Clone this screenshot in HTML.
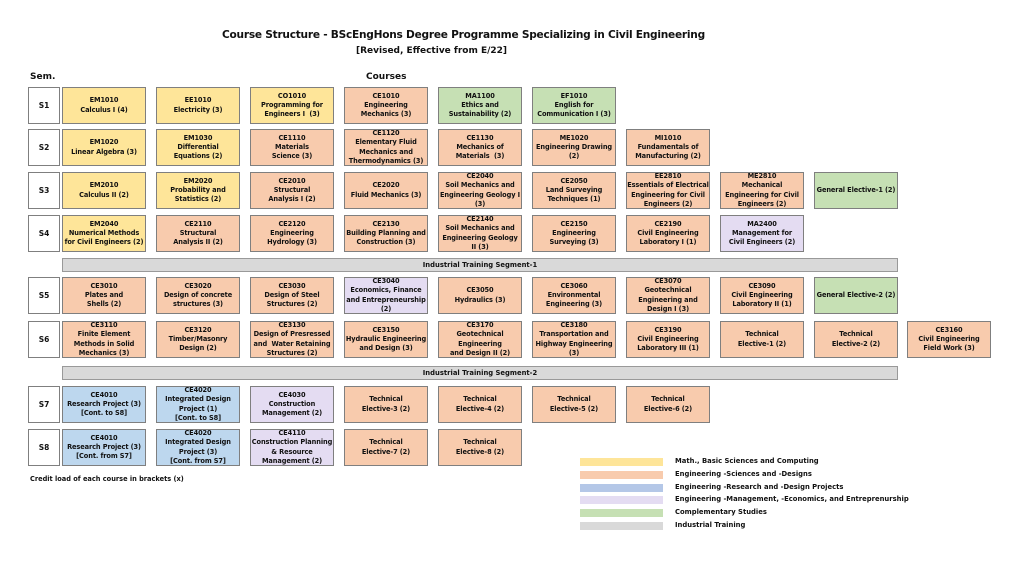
<!DOCTYPE html>
<html><head><meta charset="utf-8"><style>
body{margin:0;width:1024px;height:576px;background:#fff;position:relative;overflow:hidden;font-family:"DejaVu Sans","Liberation Sans",sans-serif;font-weight:bold;color:#111}
.b{position:absolute;width:82px;height:35px;border:1px solid #7f7f7f;display:flex;align-items:center;justify-content:center;text-align:center;font-size:6.6px;line-height:9.2px;overflow:hidden;letter-spacing:-0.1px}
.y{background:#fee599}.o{background:#f8cbad}.bl{background:#bdd7ee}.p{background:#e4dcf2}.g{background:#c6e0b4}
.s{position:absolute;left:28px;width:30px;height:35px;border:1px solid #7f7f7f;background:#fff;display:flex;align-items:center;justify-content:center;font-size:7.5px}
.t{position:absolute;white-space:nowrap}
.bar{position:absolute;left:62px;width:834px;height:12px;background:#d9d9d9;border:1px solid #999;font-size:6.8px;line-height:12px;text-align:center;padding-left:0}
.sw{position:absolute;left:580px;width:83px;height:8px}
.lt{position:absolute;left:675px;font-size:6.8px;white-space:nowrap}
</style></head><body>
<div class="t" style="left:222px;top:29px;width:480px;text-align:center;font-size:10.6px;letter-spacing:-0.25px">Course Structure - BScEngHons Degree Programme Specializing in Civil Engineering</div>
<div class="t" style="left:356px;top:46px;font-size:9px">[Revised, Effective from E/22]</div>
<div class="t" style="left:30px;top:72px;font-size:9px">Sem.</div>
<div class="t" style="left:366px;top:72px;font-size:9px">Courses</div>

<div class="s" style="top:87px">S1</div>
<div class="b y" style="left:62px;top:87px">EM1010<br>Calculus I (4)</div>
<div class="b y" style="left:156px;top:87px">EE1010<br>Electricity (3)</div>
<div class="b y" style="left:250px;top:87px">CO1010<br>Programming for<br>Engineers I &nbsp;(3)</div>
<div class="b o" style="left:344px;top:87px">CE1010<br>Engineering<br>Mechanics (3)</div>
<div class="b g" style="left:438px;top:87px">MA1100<br>Ethics and<br>Sustainability (2)</div>
<div class="b g" style="left:532px;top:87px">EF1010<br>English for<br>Communication I (3)</div>

<div class="s" style="top:129px">S2</div>
<div class="b y" style="left:62px;top:129px">EM1020<br>Linear Algebra (3)</div>
<div class="b y" style="left:156px;top:129px">EM1030<br>Differential<br>Equations (2)</div>
<div class="b o" style="left:250px;top:129px">CE1110<br>Materials<br>Science (3)</div>
<div class="b o" style="left:344px;top:129px">CE1120<br>Elementary Fluid<br>Mechanics and<br>Thermodynamics (3)</div>
<div class="b o" style="left:438px;top:129px">CE1130<br>Mechanics of<br>Materials &nbsp;(3)</div>
<div class="b o" style="left:532px;top:129px">ME1020<br>Engineering Drawing<br>(2)</div>
<div class="b o" style="left:626px;top:129px">MI1010<br>Fundamentals of<br>Manufacturing (2)</div>

<div class="s" style="top:172px">S3</div>
<div class="b y" style="left:62px;top:172px">EM2010<br>Calculus II (2)</div>
<div class="b y" style="left:156px;top:172px">EM2020<br>Probability and<br>Statistics (2)</div>
<div class="b o" style="left:250px;top:172px">CE2010<br>Structural<br>Analysis I (2)</div>
<div class="b o" style="left:344px;top:172px">CE2020<br>Fluid Mechanics (3)</div>
<div class="b o" style="left:438px;top:172px">CE2040<br>Soil Mechanics and<br>Engineering Geology I<br>(3)</div>
<div class="b o" style="left:532px;top:172px">CE2050<br>Land Surveying<br>Techniques (1)</div>
<div class="b o" style="left:626px;top:172px">EE2810<br>Essentials of Electrical<br>Engineering for Civil<br>Engineers (2)</div>
<div class="b o" style="left:720px;top:172px">ME2810<br>Mechanical<br>Engineering for Civil<br>Engineers (2)</div>
<div class="b g" style="left:814px;top:172px">General Elective-1 (2)</div>

<div class="s" style="top:215px">S4</div>
<div class="b y" style="left:62px;top:215px">EM2040<br>Numerical Methods<br>for Civil Engineers (2)</div>
<div class="b o" style="left:156px;top:215px">CE2110<br>Structural<br>Analysis II (2)</div>
<div class="b o" style="left:250px;top:215px">CE2120<br>Engineering<br>Hydrology (3)</div>
<div class="b o" style="left:344px;top:215px">CE2130<br>Building Planning and<br>Construction (3)</div>
<div class="b o" style="left:438px;top:215px">CE2140<br>Soil Mechanics and<br>Engineering Geology<br>II (3)</div>
<div class="b o" style="left:532px;top:215px">CE2150<br>Engineering<br>Surveying (3)</div>
<div class="b o" style="left:626px;top:215px">CE2190<br>Civil Engineering<br>Laboratory I (1)</div>
<div class="b p" style="left:720px;top:215px">MA2400<br>Management for<br>Civil Engineers (2)</div>

<div class="bar" style="top:258px">Industrial Training Segment-1</div>

<div class="s" style="top:277px">S5</div>
<div class="b o" style="left:62px;top:277px">CE3010<br>Plates and<br>Shells (2)</div>
<div class="b o" style="left:156px;top:277px">CE3020<br>Design of concrete<br>structures (3)</div>
<div class="b o" style="left:250px;top:277px">CE3030<br>Design of Steel<br>Structures (2)</div>
<div class="b p" style="left:344px;top:277px">CE3040<br>Economics, Finance<br>and Entrepreneurship<br>(2)</div>
<div class="b o" style="left:438px;top:277px">CE3050<br>Hydraulics (3)</div>
<div class="b o" style="left:532px;top:277px">CE3060<br>Environmental<br>Engineering (3)</div>
<div class="b o" style="left:626px;top:277px">CE3070<br>Geotechnical<br>Engineering and<br>Design I (3)</div>
<div class="b o" style="left:720px;top:277px">CE3090<br>Civil Engineering<br>Laboratory II (1)</div>
<div class="b g" style="left:814px;top:277px">General Elective-2 (2)</div>

<div class="s" style="top:321px">S6</div>
<div class="b o" style="left:62px;top:321px">CE3110<br>Finite Element<br>Methods in Solid<br>Mechanics (3)</div>
<div class="b o" style="left:156px;top:321px">CE3120<br>Timber/Masonry<br>Design (2)</div>
<div class="b o" style="left:250px;top:321px">CE3130<br>Design of Presressed<br>and &nbsp;Water Retaining<br>Structures (2)</div>
<div class="b o" style="left:344px;top:321px">CE3150<br>Hydraulic Engineering<br>and Design (3)</div>
<div class="b o" style="left:438px;top:321px">CE3170<br>Geotechnical<br>Engineering<br>and Design II (2)</div>
<div class="b o" style="left:532px;top:321px">CE3180<br>Transportation and<br>Highway Engineering<br>(3)</div>
<div class="b o" style="left:626px;top:321px">CE3190<br>Civil Engineering<br>Laboratory III (1)</div>
<div class="b o" style="left:720px;top:321px">Technical<br>Elective-1 (2)</div>
<div class="b o" style="left:814px;top:321px">Technical<br>Elective-2 (2)</div>
<div class="b o" style="left:907px;top:321px">CE3160<br>Civil Engineering<br>Field Work (3)</div>

<div class="bar" style="top:366px">Industrial Training Segment-2</div>

<div class="s" style="top:386px">S7</div>
<div class="b bl" style="left:62px;top:386px">CE4010<br>Research Project (3)<br>[Cont. to S8]</div>
<div class="b bl" style="left:156px;top:386px">CE4020<br>Integrated Design<br>Project (1)<br>[Cont. to S8]</div>
<div class="b p" style="left:250px;top:386px">CE4030<br>Construction<br>Management (2)</div>
<div class="b o" style="left:344px;top:386px">Technical<br>Elective-3 (2)</div>
<div class="b o" style="left:438px;top:386px">Technical<br>Elective-4 (2)</div>
<div class="b o" style="left:532px;top:386px">Technical<br>Elective-5 (2)</div>
<div class="b o" style="left:626px;top:386px">Technical<br>Elective-6 (2)</div>

<div class="s" style="top:429px">S8</div>
<div class="b bl" style="left:62px;top:429px">CE4010<br>Research Project (3)<br>[Cont. from S7]</div>
<div class="b bl" style="left:156px;top:429px">CE4020<br>Integrated Design<br>Project (3)<br>[Cont. from S7]</div>
<div class="b p" style="left:250px;top:429px">CE4110<br>Construction Planning<br>&amp; Resource<br>Management (2)</div>
<div class="b o" style="left:344px;top:429px">Technical<br>Elective-7 (2)</div>
<div class="b o" style="left:438px;top:429px">Technical<br>Elective-8 (2)</div>

<div class="t" style="left:30px;top:475px;font-size:6.6px">Credit load of each course in brackets (x)</div>

<div class="sw" style="top:458px;background:#fee599"></div><div class="lt" style="top:457px">Math., Basic Sciences and Computing</div>
<div class="sw" style="top:471px;background:#f8cbad"></div><div class="lt" style="top:470px">Engineering -Sciences and -Designs</div>
<div class="sw" style="top:484px;background:#b4c7e7"></div><div class="lt" style="top:483px">Engineering -Research and -Design Projects</div>
<div class="sw" style="top:496px;background:#e4dcf2"></div><div class="lt" style="top:495px">Engineering -Management, -Economics, and Entreprenurship</div>
<div class="sw" style="top:509px;background:#c6e0b4"></div><div class="lt" style="top:508px">Complementary Studies</div>
<div class="sw" style="top:522px;background:#d9d9d9"></div><div class="lt" style="top:521px">Industrial Training</div>
</body></html>
